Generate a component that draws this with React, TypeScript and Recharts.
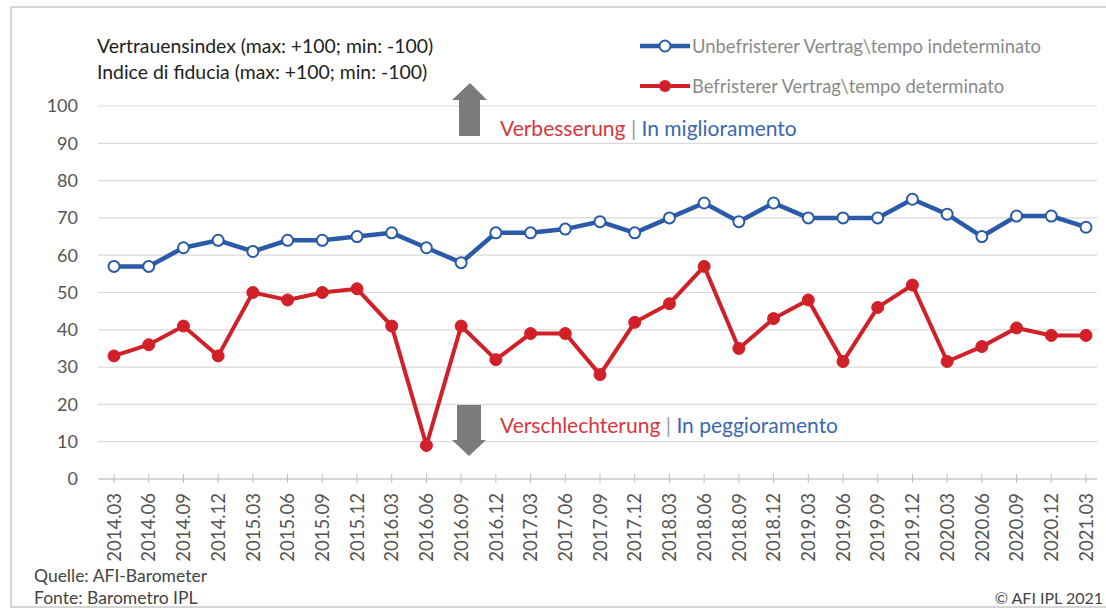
import React from 'react';
import { LineChart, Line, XAxis, YAxis, CartesianGrid } from 'recharts';

const categories = [
  '2014.03', '2014.06', '2014.09', '2014.12', '2015.03', '2015.06', '2015.09', '2015.12',
  '2016.03', '2016.06', '2016.09', '2016.12', '2017.03', '2017.06', '2017.09', '2017.12',
  '2018.03', '2018.06', '2018.09', '2018.12', '2019.03', '2019.06', '2019.09', '2019.12',
  '2020.03', '2020.06', '2020.09', '2020.12', '2021.03',
];

const unbefristet = [
  57, 57, 62, 64, 61, 64, 64, 65, 66, 62, 58, 66, 66, 67, 69, 66,
  70, 74, 69, 74, 70, 70, 70, 75, 71, 65, 70.5, 70.5, 67.5,
];

const befristet = [
  33, 36, 41, 33, 50, 48, 50, 51, 41, 9, 41, 32, 39, 39, 28, 42,
  47, 57, 35, 43, 48, 31.5, 46, 52, 31.5, 35.5, 40.5, 38.5, 38.5,
];

const yTicks = [0, 10, 20, 30, 40, 50, 60, 70, 80, 90, 100];

const seriesNames = {
  unbefristet: 'Unbefristerer Vertrag\\tempo indeterminato',
  befristet: 'Befristerer Vertrag\\tempo determinato',
};

const data = categories.map((period, i) => ({
  period,
  unbefristet: unbefristet[i],
  befristet: befristet[i],
}));

const BLUE = '#2b5aa8';
const RED = '#d22028';
const FONT = 'Lato, "Noto Sans", sans-serif';

const XTick = (props: any) => {
  const { x, y, payload } = props;
  return (
    <g>
      <line x1={x} x2={x} y1={y - 19} y2={y - 10} stroke="#bdbdbd" strokeWidth={1} />
      <g transform={`translate(${x},${y})`}>
        <text
          transform="rotate(-90)"
          textAnchor="end"
          dy="0.36em"
          fontSize={18.5}
          fontFamily={FONT}
          fill="#555"
        >
          {payload.value}
        </text>
      </g>
    </g>
  );
};

export default function App() {
  return (
    <div style={{ position: 'absolute', left: 0, top: 0, width: 1106, height: 610, background: '#fff' }}>
      <LineChart
        width={1106}
        height={610}
        data={data}
        margin={{ top: 106, right: 9, left: 38, bottom: 41 }}
      >
        <CartesianGrid vertical={false} stroke="#dadada" strokeWidth={1.2} />
        <XAxis
          dataKey="period"
          interval={0}
          padding={{ left: 16, right: 11 }}
          height={90}
          tickSize={0}
          tickMargin={14}
          tickLine={false}
          axisLine={{ stroke: '#bdbdbd', strokeWidth: 1.2 }}
          tick={<XTick />}
        />
        <YAxis
          domain={[0, 100]}
          ticks={yTicks}
          width={60}
          tickSize={0}
          tickMargin={20}
          axisLine={false}
          tickLine={false}
          tick={{ fontSize: 18, fontFamily: FONT, fill: '#555' }}
        />
        <Line
          type="linear"
          dataKey="unbefristet"
          name={seriesNames.unbefristet}
          stroke={BLUE}
          strokeWidth={4.5}
          dot={{ r: 5.5, fill: '#fff', stroke: BLUE, strokeWidth: 2 }}
          isAnimationActive={false}
        />
        <Line
          type="linear"
          dataKey="befristet"
          name={seriesNames.befristet}
          stroke={RED}
          strokeWidth={4}
          dot={{ r: 6, fill: RED, stroke: RED, strokeWidth: 1 }}
          isAnimationActive={false}
        />
      </LineChart>
      <svg
        width={1106}
        height={610}
        style={{ position: 'absolute', left: 0, top: 0, pointerEvents: 'none' }}
        fontFamily={FONT}
      >
        <rect x={11} y={7} width={1100} height={600} fill="none" stroke="#c8c8c8" strokeWidth={1.5} />
        <text x={97} y={45} dominantBaseline="central" fontSize={19.4} fill="#222">
          Vertrauensindex (max: +100; min: -100)
        </text>
        <text x={97} y={71} dominantBaseline="central" fontSize={19.4} fill="#222">
          Indice di fiducia (max: +100; min: -100)
        </text>

        {/* legend */}
        <line x1={640} x2={690} y1={46} y2={46} stroke={BLUE} strokeWidth={4.5} />
        <circle cx={665} cy={46} r={5.5} fill="#fff" stroke={BLUE} strokeWidth={2} />
        <text x={692} y={46} dominantBaseline="central" fontSize={18.4} fill="#8a8a8a">
          {seriesNames.unbefristet}
        </text>
        <line x1={640} x2={690} y1={86} y2={86} stroke={RED} strokeWidth={4} />
        <circle cx={665} cy={86} r={6} fill={RED} />
        <text x={692} y={86} dominantBaseline="central" fontSize={18.4} fill="#8a8a8a">
          {seriesNames.befristet}
        </text>

        {/* up arrow */}
        <polygon points="470,83 487,100 480,100 480,136 459,136 459,100 452,100" fill="#7b7b7b" />
        <text x={500} y={127} dominantBaseline="central" fontSize={21}>
          <tspan fill="#d8363d">Verbesserung</tspan>
          <tspan fill="#9a9a9a"> | </tspan>
          <tspan fill="#3a68b0">In miglioramento</tspan>
        </text>

        {/* down arrow */}
        <polygon points="457,405 481,405 481,440 486,440 469,456 452,440 457,440" fill="#7b7b7b" />
        <text x={500} y={424} dominantBaseline="central" fontSize={21}>
          <tspan fill="#d8363d">Verschlechterung</tspan>
          <tspan fill="#9a9a9a"> | </tspan>
          <tspan fill="#3a68b0">In peggioramento</tspan>
        </text>

        {/* footer */}
        <text x={34} y={575} dominantBaseline="central" fontSize={17.5} fill="#444">
          Quelle: AFI-Barometer
        </text>
        <text x={34} y={597} dominantBaseline="central" fontSize={17.5} fill="#444">
          Fonte: Barometro IPL
        </text>
        <text x={1103} y={597} dominantBaseline="central" textAnchor="end" fontSize={16} fill="#444">
          © AFI IPL 2021
        </text>
      </svg>
    </div>
  );
}
